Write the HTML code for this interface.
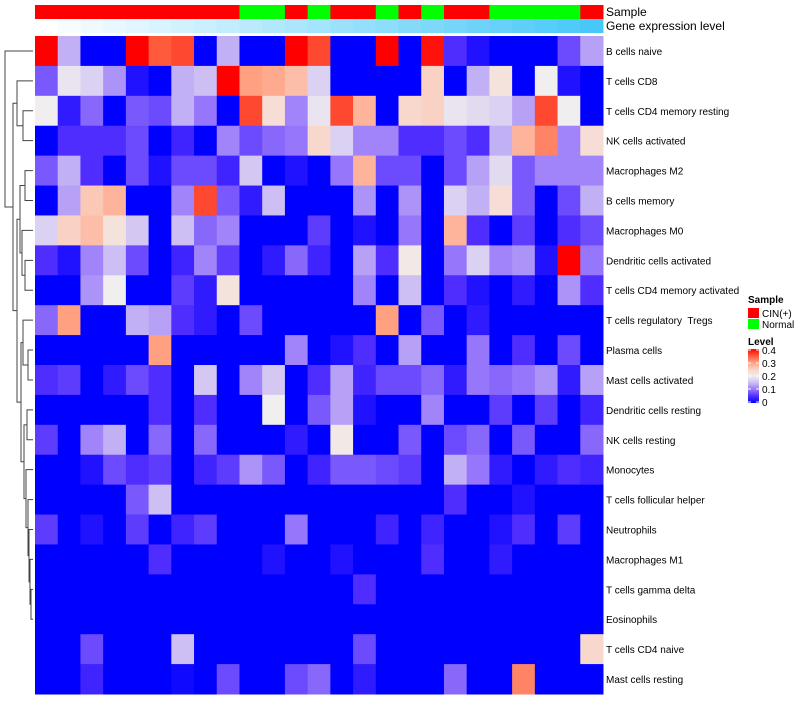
<!DOCTYPE html>
<html><head><meta charset="utf-8"><style>
body{margin:0;background:#fff;}
svg text{font-family:"Liberation Sans",sans-serif;white-space:pre;}
</style></head><body>
<svg id="chart" width="800" height="700" xmlns="http://www.w3.org/2000/svg"></svg>
<script>
const rowLabels=["B cells naive","T cells CD8","T cells CD4 memory resting","NK cells activated","Macrophages M2","B cells memory","Macrophages M0","Dendritic cells activated","T cells CD4 memory activated","T cells regulatory  Tregs","Plasma cells","Mast cells activated","Dendritic cells resting","NK cells resting","Monocytes","T cells follicular helper","Neutrophils","Macrophages M1","T cells gamma delta","Eosinophils","T cells CD4 naive","Mast cells resting"];
const sampleGroups=["C","C","C","C","C","C","C","C","C","N","N","C","N","C","C","N","C","N","C","C","N","N","N","N","C"];
const r0=[.4,.14,0,0,.4,.35,.36,0,.14,0,0,.4,.36,0,0,.4,0,.39,.05,.02,0,0,0,.07,.13];
const r1=[.08,.19,.17,.12,.02,0,.14,.15,.4,.3,.29,.27,.17,0,0,0,0,.25,0,.14,.22,0,.2,.02,0];
const r2=[.2,.03,.09,0,.08,.07,.14,.1,0,.36,.23,.11,.19,.36,.28,0,.24,.25,.19,.18,.17,.13,.36,.2,0];
const r3=[0,.05,.05,.05,.07,0,.04,0,.11,.07,.09,.1,.24,.17,.11,.11,.05,.05,.07,.05,.14,.28,.32,.11,.23];
const r4=[.08,.14,.05,0,.07,.02,.07,.07,.04,.16,0,.02,0,.1,.28,.07,.07,0,.07,.13,.18,.08,.11,.11,.11];
const r5=[0,.13,.26,.28,0,0,.11,.36,.08,.03,.15,0,0,0,.12,0,.12,0,.17,.14,.23,.08,0,.07,.14];
const r6=[.17,.25,.27,.22,.16,0,.15,.09,.11,0,0,0,.06,0,.02,0,.1,0,.28,.05,0,.06,0,.05,.07];
const r7=[.05,.02,.11,.15,.07,0,.04,.11,.06,0,.03,.09,.04,0,.13,.05,.21,0,.1,.17,.11,.12,.02,.4,.1];
const r8=[0,0,.12,.2,0,0,.06,.03,.22,0,0,0,0,0,.11,0,.15,0,.05,.02,0,.03,0,.12,.05];
const r9=[.09,.3,0,0,.14,.13,.05,.03,0,.07,0,0,0,0,0,.3,0,.08,0,.03,0,0,0,0,0];
const r10=[0,0,0,0,0,.3,0,0,0,0,0,.11,0,.02,.05,0,.13,0,0,.1,0,.05,0,.07,0];
const r11=[.05,.06,0,.03,.07,.05,0,.16,0,.11,.16,0,.05,.13,.04,.07,.07,.09,.03,.1,.09,.1,.12,.03,.13];
const r12=[0,0,0,0,0,.05,0,.05,0,0,.2,0,.08,.13,.02,0,0,.11,0,0,.06,0,.06,0,.04];
const r13=[.06,0,.11,.14,0,.09,0,.09,0,0,0,.03,0,.21,0,0,.08,0,.07,.09,0,.08,0,0,.09];
const r14=[0,0,.02,.07,.05,.06,0,.04,.06,.12,.08,0,.04,.08,.08,.07,.06,0,.14,.1,.03,0,.03,.05,.04];
const r15=[0,0,0,0,.08,.15,0,0,0,0,0,0,0,0,0,0,0,0,.05,0,0,.02,0,0,0];
const r16=[.06,0,.02,0,.06,0,.04,.06,0,0,0,.1,0,0,0,.04,0,.04,0,0,.02,.05,0,.06,0];
const r17=[0,0,0,0,0,.05,0,0,0,0,.02,0,0,.02,0,0,0,.05,0,0,.03,0,0,0,0];
const r18=[0,0,0,0,0,0,0,0,0,0,0,0,0,0,.05,0,0,0,0,0,0,0,0,0,0];
const r19=[0,0,0,0,0,0,0,0,0,0,0,0,0,0,0,0,0,0,0,0,0,0,0,0,0];
const r20=[0,0,.07,0,0,0,.15,0,0,0,0,0,0,0,.07,0,0,0,0,0,0,0,0,0,.24];
const r21=[0,0,.04,0,0,0,.01,0,.07,0,0,.07,.09,0,.03,0,0,0,.09,0,0,.32,0,0,0];
const values=[r0,r1,r2,r3,r4,r5,r6,r7,r8,r9,r10,r11,r12,r13,r14,r15,r16,r17,r18,r19,r20,r21];
const legendTicks=["0.4","0.3","0.2","0.1","0"];

const svg=document.getElementById('chart');
const NS="http://www.w3.org/2000/svg";
function mk(tag,attrs){const e=document.createElementNS(NS,tag);for(const k in attrs)e.setAttribute(k,attrs[k]);svg.appendChild(e);return e;}
const X0=35,X1=603,Y0=36,Y1=694;
const nC=sampleGroups.length,nR=values.length;
const cw=(X1-X0)/nC,rh=(Y1-Y0)/nR;
const xPos=c=>X0+c*cw, yPos=r=>Y0+r*rh;
const stops=[[0,[0,0,255]],[.05,[80,45,255]],[.1,[150,118,250]],[.15,[205,190,244]],[.2,[240,238,238]],[.25,[250,210,196]],[.3,[255,160,128]],[.35,[255,90,60]],[.4,[255,0,0]]];
function color(v){v=Math.max(0,Math.min(.4,v));for(let i=1;i<stops.length;i++){if(v<=stops[i][0]){const a=stops[i-1],b=stops[i],t=(v-a[0])/(b[0]-a[0]);const c=a[1].map((x,j)=>Math.round(x+(b[1][j]-x)*t));return `rgb(${c})`;}}return 'rgb(255,0,0)';}

for(let c=0;c<nC;c++){
  const s=mk('rect',{x:xPos(c),y:5,width:cw+0.5,height:14,fill:sampleGroups[c]==="C"?"#ff0000":"#00ff00"});
  
  
  const t=c/(nC-1);
  const g=mk('rect',{x:xPos(c),y:19,width:cw+0.5,height:14,fill:`rgb(${Math.round(255-183*t)},${Math.round(255-55*t)},${Math.round(255-7*t)})`});
  
  
}
const t1=mk('text',{x:606,y:16,'font-size':12});t1.textContent="Sample";


const t2=mk('text',{x:606,y:30,'font-size':12});t2.textContent="Gene expression level";



for(let r=0;r<nR;r++){
  for(let c=0;c<nC;c++){
    const e=mk('rect',{x:xPos(c),y:yPos(r),width:cw+0.5,height:rh+0.5,fill:color(values[r][c])});
    
    
  }
  const l=mk('text',{x:606,y:yPos(r)+rh/2+4,'font-size':10});
  l.textContent=rowLabels[r];
  
  
}

const ry=r=>yPos(r)+rh/2;
function node(left,right,x){return {l:left,r:right,x:x};}
function leaf(i){return {leaf:i,x:33};}
function yOf(n){return n.leaf!==undefined?ry(n.leaf):(yOf(n.l)+yOf(n.r))/2;}
function draw(n){if(n.leaf!==undefined)return;const yl=yOf(n.l),yr=yOf(n.r);
  const p=mk('path',{d:`M${n.l.x},${yl}H${n.x}V${yr}H${n.r.x}`,stroke:'#444',fill:'none','stroke-width':1});
  
  
  draw(n.l);draw(n.r);}
const L=leaf;
const bGrp=node(L(1),node(L(2),L(3),23),17);
const dGrp=node(node(L(4),L(5),25),node(L(6),node(L(7),L(8),25),22),20);
const eGrp=node(node(L(9),node(L(10),L(11),28),23),
  node(node(L(12),L(13),27),node(L(14),node(L(15),node(L(16),node(L(17),node(L(18),L(19),31),30),29),28),26),24),21);
const cGrp=node(dGrp,eGrp,17);
const root=node(L(0),node(bGrp,cGrp,13),5);
draw(root);

const lg1=mk('text',{x:748,y:303,'font-size':10,'font-weight':'bold'});lg1.textContent="Sample";


[["CIN(+)","#ff0000"],["Normal","#00ff00"]].forEach((d,i)=>{
  const r=mk('rect',{x:748,y:308+i*11,width:11,height:10,fill:d[1]});
  
  
  const t=mk('text',{x:762,y:317+i*11,'font-size':10});t.textContent=d[0];
  
  
});
const lg2=mk('text',{x:748,y:345,'font-size':10,'font-weight':'bold'});lg2.textContent="Level";


const defs=mk('defs',{});
const grad=document.createElementNS(NS,'linearGradient');grad.setAttribute('id','lg');grad.setAttribute('x1','0');grad.setAttribute('y1','1');grad.setAttribute('x2','0');grad.setAttribute('y2','0');
stops.forEach(s=>{const st=document.createElementNS(NS,'stop');st.setAttribute('offset',s[0]/.4);st.setAttribute('stop-color',color(s[0]));grad.appendChild(st);});
defs.appendChild(grad);
const bar=mk('rect',{x:748,y:349,width:11,height:54,fill:'url(#lg)'});


legendTicks.forEach((t,i)=>{
  const y=350+i*13;
  mk('line',{x1:748,x2:751,y1:y,y2:y,stroke:'#fff'});
  mk('line',{x1:756,x2:759,y1:y,y2:y,stroke:'#fff'});
  const tx=mk('text',{x:762,y:y+4,'font-size':10});tx.textContent=t;
  
  
});
</script>
</body></html>
